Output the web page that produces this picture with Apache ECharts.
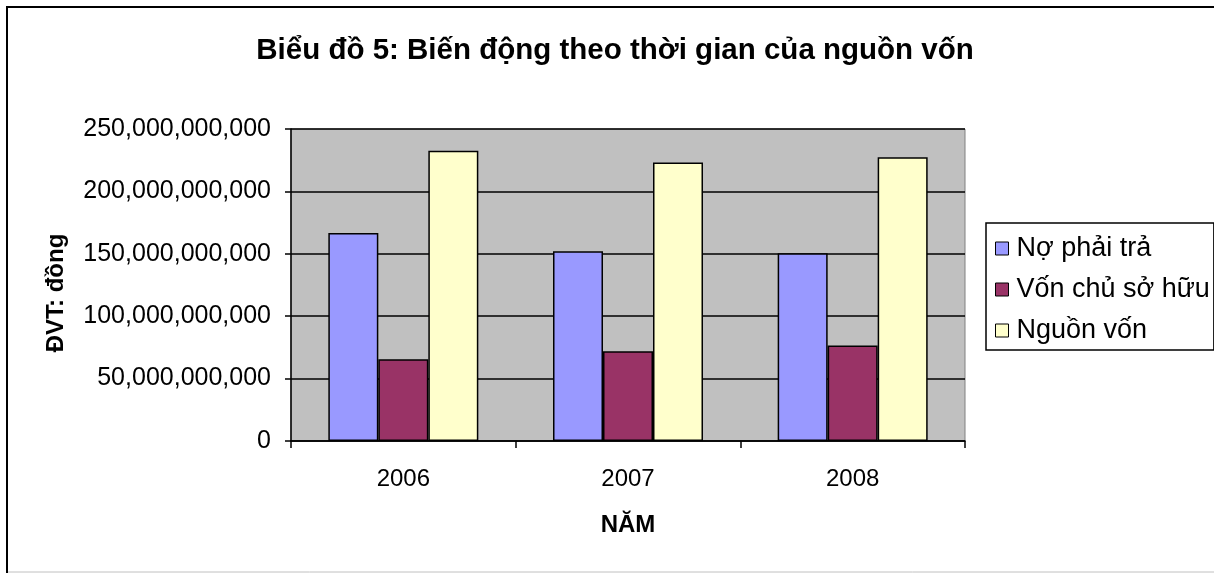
<!DOCTYPE html>
<html>
<head>
<meta charset="utf-8">
<title>Biểu đồ 5</title>
<script src="https://cdn.jsdelivr.net/npm/echarts@6/dist/echarts.min.js"></script>
<style>
    html, body { margin: 0; padding: 0; background: #fff; }
    #nguon_von_con { width: 1214px; height: 573px; }
</style>
</head>
<body>
<div id="nguon_von_con"></div>
<script>
// số liệu (đồng)
let years = ['2006', '2007', '2008'];
let noPhaiTra = [166.6e9, 152.1e9, 150.5e9];
let vonChuSoHuu = [65.5e9, 71.9e9, 76.5e9];
let nguonVon = [232.5e9, 223.2e9, 227.4e9];
let seriesNames = ['Nợ phải trả', 'Vốn chủ sở hữu', 'Nguồn vốn'];

const font = '"Liberation Sans", Arial, sans-serif';

function makeBar(name, data) {
    return {
        name: name,
        type: 'bar',
        barWidth: 50,
        barGap: '0%',
        itemStyle: {
            borderColor: '#000',
            borderWidth: 1.5
        },
        data: data
    };
}

let option = {
    animation: false,
    color: ['#9999FF', '#993366', '#FFFFCC'],
    textStyle: { fontFamily: font, color: '#000' },
    title: {
        text: 'Biểu đồ 5: Biến động theo thời gian của nguồn vốn',
        left: 615,
        textAlign: 'center',
        top: 36,
        padding: 0,
        textStyle: {
            fontFamily: font,
            fontSize: 29.5,
            fontWeight: 'bold',
            color: '#000'
        }
    },
    legend: {
        data: seriesNames,
        orient: 'vertical',
        left: 986,
        top: 223,
        padding: [12, 4, 6, 9],
        itemGap: 14,
        itemWidth: 13,
        itemHeight: 13,
        icon: 'rect',
        backgroundColor: '#fff',
        borderColor: '#000',
        borderWidth: 1.5,
        borderRadius: 0,
        itemStyle: { borderColor: '#000', borderWidth: 1 },
        textStyle: {
            fontFamily: font,
            fontSize: 27,
            color: '#000',
            padding: [0, 0, 0, 3]
        }
    },
    grid: {
        left: 291,
        right: 249,
        top: 129,
        bottom: 132,
        containLabel: false,
        outerBoundsMode: 'none',
        show: true,
        backgroundColor: '#C0C0C0',
        borderColor: '#808080',
        borderWidth: 1
    },
    xAxis: {
        type: 'category',
        data: years,
        name: 'NĂM',
        nameLocation: 'middle',
        nameGap: 72,
        nameTextStyle: {
            fontFamily: font,
            fontSize: 24,
            fontWeight: 'bold',
            color: '#000'
        },
        axisLine: { lineStyle: { color: '#000', width: 1.5 } },
        axisTick: { show: true, length: 7, lineStyle: { color: '#000', width: 1.5 } },
        axisLabel: {
            margin: 26,
            fontFamily: font,
            fontSize: 24,
            color: '#000'
        }
    },
    yAxis: {
        type: 'value',
        min: 0,
        max: 250e9,
        interval: 50e9,
        name: 'ĐVT: đồng',
        nameLocation: 'middle',
        nameGap: 223,
        nameTextStyle: {
            fontFamily: font,
            fontSize: 24,
            fontWeight: 'bold',
            color: '#000',
            padding: [0, 16, 0, 0]
        },
        axisLine: { show: true, lineStyle: { color: '#000', width: 1.5 } },
        axisTick: { show: true, length: 6, lineStyle: { color: '#000', width: 1.5 } },
        axisLabel: {
            margin: 20,
            fontFamily: font,
            fontSize: 25,
            color: '#000',
            formatter: function (v) {
                return v.toLocaleString('en-US');
            }
        },
        splitLine: { show: true, lineStyle: { color: '#000', width: 1.5 } }
    },
    graphic: [
        {
            // khung ngoài của biểu đồ
            type: 'rect',
            shape: { x: 7, y: 7, width: 1300, height: 700 },
            style: { fill: 'none', stroke: '#000', lineWidth: 2 },
            silent: true
        },
        {
            type: 'line',
            shape: { x1: 8, y1: 572, x2: 1214, y2: 572 },
            style: { stroke: '#C0C0C0', lineWidth: 1 },
            silent: true
        }
    ],
    series: [
        makeBar(seriesNames[0], noPhaiTra),
        makeBar(seriesNames[1], vonChuSoHuu),
        makeBar(seriesNames[2], nguonVon)
    ]
};

const chart = echarts.init(document.getElementById('nguon_von_con'));
chart.setOption(option);

window.addEventListener('resize', function () {
    chart.resize();
});
</script>
</body>
</html>
